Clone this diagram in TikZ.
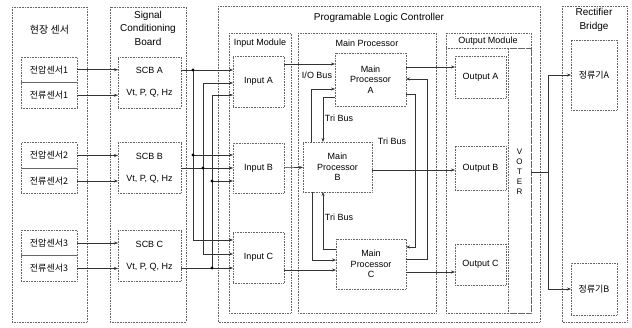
\documentclass[tikz,border=0pt]{standalone}
\usepackage{fontspec}
\setmainfont{Liberation Sans}
\newfontfamily\krfont{Noto Sans CJK KR}
\usetikzlibrary{arrows.meta,positioning}

\begin{document}
\begin{tikzpicture}[
    x=1pt, y=-1pt,
    every node/.style={align=center, font=\fontsize{9}{10.5}\selectfont},
    group/.style={draw=black!60, densely dotted, line width=0.6pt},
    unit/.style={draw=black!60, densely dotted, line width=0.6pt, inner sep=1pt, outer sep=0pt},
    cell/.style={unit, minimum width=56pt, minimum height=25.5pt, font=\krfont\fontsize{9}{10.5}\selectfont},
    title/.style={font=\fontsize{10}{13.5}\selectfont},
    head/.style={font=\fontsize{9}{10.5}\selectfont},
    wire/.style={draw=black!80, line width=0.6pt},
    link/.style={wire, -{Stealth[length=4pt,width=3pt]}},
    dot/.style={fill=black}
]
\useasboundingbox (0,0) rectangle (632,327);

% outer groups
\draw[group] (12,7) rectangle (87,322);
\draw[group] (110,7) rectangle (186,322);
\draw[group] (218,6) rectangle (540,322);
\draw[group] (562,6) rectangle (627,322);
\draw[group] (229,33) rectangle (291,313);
\draw[group] (298,33) rectangle (436,313);
\draw[group] (446,33) rectangle (531,313);
\draw[group] (446,48) -- (531,48);

\node[title, font=\krfont\fontsize{10}{12}\selectfont] (fieldtitle) at (49.5,30) {현장 센서};
\node[title] (scbtitle) at (148,28) {Signal\\Conditioning\\Board};
\node[title] (plctitle) at (379,18) {Programable Logic Controller};
\node[title] (rectitle) at (594,20) {Rectifier\\Bridge};
\node[head] (inhead) at (260,43) {Input Module};
\node[head] (mphead) at (367,43) {Main Processor};
\node[head] (outhead) at (488,41) {Output Module};

% sensors
\node[cell] (v1) at (49,69.75) {전압센서1};
\node[cell, below=0pt of v1] (c1) {전류센서1};
\node[cell] (v2) at (49,155.5) {전압센서2};
\node[cell, below=0pt of v2] (c2) {전류센서2};
\node[cell] (v3) at (49,243) {전압센서3};
\node[cell, below=0pt of v3] (c3) {전류센서3};

% signal conditioning boards
\node[unit, minimum width=63pt, minimum height=51pt] (scbA) at (149.5,82.5) {SCB A\\[11.5pt]Vt, P, Q, Hz};
\node[unit, minimum width=63pt, minimum height=51pt] (scbB) at (149.5,168) {SCB B\\[11.5pt]Vt, P, Q, Hz};
\node[unit, minimum width=63pt, minimum height=51pt] (scbC) at (149.5,256) {SCB C\\[11.5pt]Vt, P, Q, Hz};

% plc
\node[unit, minimum width=51pt, minimum height=51pt] (inA) at (258.5,81.5) {Input A};
\node[unit, minimum width=51pt, minimum height=50pt] (inB) at (258.5,168) {Input B};
\node[unit, minimum width=51pt, minimum height=51pt] (inC) at (258.5,257.5) {Input C};
\node[unit, minimum width=71pt, minimum height=53pt] (mpA) at (370.5,79.5) {Main\\Processor\\A};
\node[unit, minimum width=69pt, minimum height=50pt] (mpB) at (337.5,167) {Main\\Processor\\B};
\node[unit, minimum width=70pt, minimum height=50pt] (mpC) at (371,264) {Main\\Processor\\C};
\node[unit, minimum width=51pt, minimum height=42pt] (outA) at (480.5,77) {Output A};
\node[unit, minimum width=51pt, minimum height=44pt] (outB) at (480.5,168) {Output B};
\node[unit, minimum width=51pt, minimum height=41pt] (outC) at (480.5,264.5) {Output C};
\node[unit, minimum width=23pt, minimum height=265pt] (voter) at (519.5,180.5) {};
\node[font=\fontsize{8}{10}\selectfont] (votertext) at (519.5,172) {V\\O\\T\\E\\R};

\node[unit, minimum width=46pt, minimum height=70pt, font=\krfont\fontsize{9}{10.5}\selectfont] (recA) at (594,75) {정류기A};
\node[unit, minimum width=46pt, minimum height=52pt, font=\krfont\fontsize{9}{10.5}\selectfont] (recB) at (594,289) {정류기B};

\node (iobus) at (317,75) {I/O Bus};
\node (tribusab) at (339,118) {Tri Bus};
\node (tribusac) at (392,141) {Tri Bus};
\node (tribusbc) at (339,217) {Tri Bus};

% sensors to boards
\draw[link] (v1) -- (v1 -| scbA.west);
\draw[link] (c1) -- (c1 -| scbA.west);
\draw[link] (v2) -- (v2 -| scbB.west);
\draw[link] (c2) -- (c2 -| scbB.west);
\draw[link] (v3) -- (v3 -| scbC.west);
\draw[link] (c3) -- (c3 -| scbC.west);

% boards to inputs
\coordinate (jA) at (193,70);
\coordinate (jA2) at (193,155);
\coordinate (kA) at (193,240);
\coordinate (jB) at (203,168);
\coordinate (kB1) at (203,83);
\coordinate (kB2) at (203,254);
\coordinate (jC) at (212,268);
\coordinate (jC2) at (212,181);
\coordinate (kC) at (212,95);
\draw[link] (scbA.east |- jA) -- (inA.west |- jA);
\draw[link] (jA) |- (inC.west |- kA);
\draw[link] (jA2) -- (inB.west |- jA2);
\draw[link] (scbB.east |- jB) -- (inB.west |- jB);
\draw[link] (jB) |- (inA.west |- kB1);
\draw[link] (jB) |- (inC.west |- kB2);
\draw[link] (scbC.east |- jC) -- (inC.west |- jC);
\draw[link] (jC) |- (inA.west |- kC);
\draw[link] (jC2) -- (inB.west |- jC2);
\fill[dot] (jA) circle (1.7pt);
\fill[dot] (jA2) circle (1.7pt);
\fill[dot] (jB) circle (1.7pt);
\fill[dot] (jC) circle (1.7pt);
\fill[dot] (jC2) circle (1.7pt);

% inputs to processors
\coordinate (ioA) at (300,64);
\coordinate (ioC) at (300,270);
\draw[link] (inA.east |- ioA) -- (mpA.west |- ioA);
\draw[link] (inB) -- (mpB);
\draw[link] (inC.east |- ioC) -- (mpC.west |- ioC);

% tri bus
\coordinate (ab1) at (311,89);
\coordinate (ab2) at (323,97);
\coordinate (bc1) at (312,260);
\coordinate (bc2) at (323,249);
\coordinate (ac1) at (415,94);
\coordinate (ac1b) at (415,247);
\coordinate (ac2) at (427,79);
\coordinate (ac2b) at (427,259);
\draw[link] (mpB.north -| ab1) |- (mpA.west |- ab1);
\draw[link] (mpA.west |- ab2) -| (mpB.north -| ab2);
\draw[link] (mpB.south -| bc1) |- (mpC.west |- bc1);
\draw[link] (mpC.west |- bc2) -| (mpB.south -| bc2);
\draw[link] (mpA.east |- ac1) -- (ac1) |- (mpC.east |- ac1b);
\draw[link] (mpC.east |- ac2b) -| (ac2) -- (mpA.east |- ac2);

% processors to outputs
\coordinate (oA) at (440,67);
\coordinate (oB) at (440,170);
\coordinate (oC) at (440,272);
\draw[link] (mpA.east |- oA) -- (outA.west |- oA);
\draw[link] (mpB.east |- oB) -- (outB.west |- oB);
\draw[link] (mpC.east |- oC) -- (outC.west |- oC);

% voter to rectifiers
\coordinate (vj) at (548,172);
\draw[wire] (voter.east |- vj) -- (vj);
\draw[link] (vj) |- (recA.west);
\draw[link] (vj) |- (recB.west);
\end{tikzpicture}
\end{document}
